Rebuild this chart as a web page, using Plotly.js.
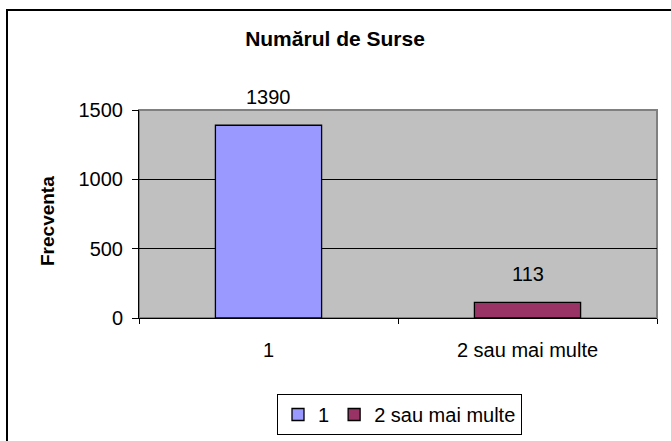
<!DOCTYPE html>
<html>
<head>
<meta charset="utf-8">
<script src="https://cdn.plot.ly/plotly-3.0.1.min.js"></script>
<style>
  html, body { margin: 0; padding: 0; background: #ffffff; overflow: hidden; }
  #chart { width: 671px; height: 441px; position: absolute; left: 0; top: 0; }
  #frame { position: absolute; left: 6px; top: 9px; width: 720px; height: 500px;
           border-left: 2px solid #000; border-top: 2px solid #000; pointer-events: none; }
</style>
</head>
<body>
<div id="chart"></div>
<div id="frame"></div>
<script>
// Data
const categories = ["1", "2 sau mai multe"];
const values = [1390, 113];
const seriesNames = ["1", "2 sau mai multe"];
const yTickValues = [0, 500, 1000, 1500];
const chartTitle = "Numărul de Surse";
const yTitle = "Frecventa";

const barColors = ["#9999FF", "#993366"];
const FONT = "'Liberation Sans', Arial, sans-serif";
const FS = 20;

const traces = categories.map((c, i) => ({
  type: "bar",
  name: seriesNames[i],
  x: [c],
  y: [values[i]],
  width: 0.41,
  marker: { color: barColors[i], line: { color: "#000000", width: 1.3 } },
  hoverinfo: "none"
}));

const annotations = categories.map((c, i) => ({
  x: i, y: values[i], xref: "x", yref: "y",
  text: String(values[i]), showarrow: false,
  yanchor: "bottom", yshift: 15,
  font: { family: FONT, size: FS, color: "#000" }
}));

// y-axis title (placed like the original, slightly below the plot centre)
annotations.push({
  text: "<b>" + yTitle + "</b>", textangle: -90, showarrow: false,
  xref: "paper", yref: "paper", x: (47 - 139) / 518, y: 0.5,
  xanchor: "center", yanchor: "middle", yshift: -7,
  font: { family: FONT, size: 19, color: "#000" }
});

const layout = {
  width: 671, height: 441,
  paper_bgcolor: "#ffffff",
  plot_bgcolor: "#C0C0C0",
  margin: { l: 139, r: 14, t: 110, b: 123, autoexpand: false },
  font: { family: FONT, size: FS, color: "#000" },
  title: {
    text: "<b>" + chartTitle + "</b>",
    font: { family: FONT, size: 21, color: "#000" },
    x: 335 / 671, xref: "container", xanchor: "center",
    y: 1 - 39 / 441, yref: "container", yanchor: "middle"
  },
  barmode: "overlay",
  showlegend: true,
  legend: {
    orientation: "h",
    xref: "container", yref: "container",
    x: 277 / 671, xanchor: "left",
    y: 1 - 394 / 441, yanchor: "top",
    bgcolor: "#ffffff", bordercolor: "#000000", borderwidth: 1,
    font: { family: FONT, size: FS, color: "#000" },
    itemwidth: 30
  },
  xaxis: {
    type: "category",
    showgrid: false,
    showline: true, linecolor: "#000", linewidth: 1,
    ticks: "outside", tickson: "boundaries", ticklen: 5, tickcolor: "#000",
    ticklabelstandoff: 14,
    tickfont: { family: FONT, size: FS, color: "#000" },
    fixedrange: true, zeroline: false
  },
  yaxis: {
    range: [0, 1500],
    tickvals: yTickValues,
    showgrid: true, gridcolor: "#000", gridwidth: 1,
    showline: true, linecolor: "#000", linewidth: 1,
    ticks: "outside", ticklen: 6, tickcolor: "#000",
    ticklabelstandoff: 5,
    tickfont: { family: FONT, size: FS, color: "#000" },
    zeroline: false, fixedrange: true
  },
  shapes: [{
    type: "rect", xref: "paper", yref: "paper", x0: 0, x1: 1, y0: 0, y1: 1,
    line: { color: "#808080", width: 2 }, fillcolor: "rgba(0,0,0,0)", layer: "below"
  }],
  annotations: annotations
};

Plotly.newPlot("chart", traces, layout, { displayModeBar: false, staticPlot: true });
</script>
</body>
</html>
